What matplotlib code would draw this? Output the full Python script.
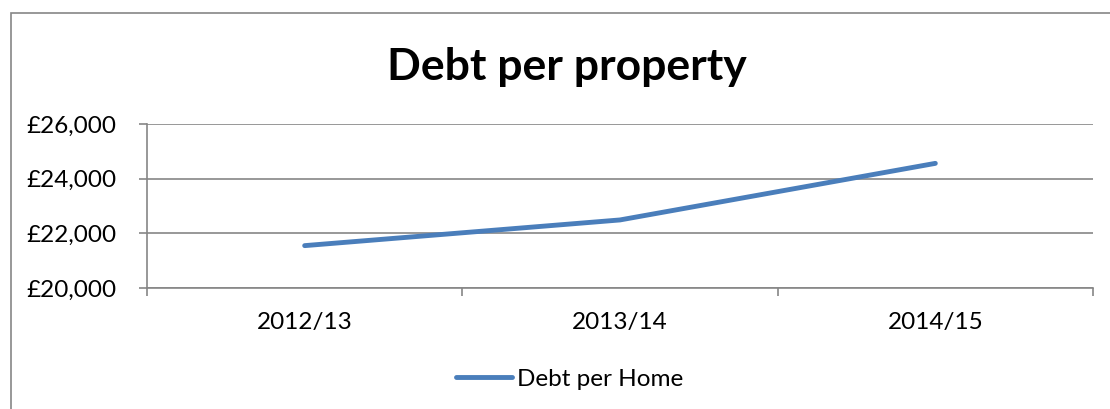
import matplotlib.pyplot as plt
from matplotlib.patches import Rectangle
from matplotlib.ticker import FuncFormatter

# data
years = ['2012/13', '2013/14', '2014/15']
debt_per_home = [21550, 22490, 24560]
y_ticks = [20000, 22000, 24000, 26000]

W, H = 1110, 409
fig = plt.figure(figsize=(W / 100, H / 100), dpi=100)
plt.rcParams['font.family'] = ['Lato', 'DejaVu Sans']

# outer chart border (runs off the right and bottom of the image)
fig.patches.append(Rectangle((11 / W, -0.05), 1.2, 1 - 13 / H + 0.05,
                             transform=fig.transFigure, fill=False,
                             edgecolor='#868686', linewidth=1.2))

ax = fig.add_axes([147 / W, 1 - 288 / H, (1093 - 147) / W, (288 - 124) / H])
x = list(range(len(years)))
ax.plot(x, debt_per_home, color='#4A7EBB', linewidth=3.5,
        solid_capstyle='round', solid_joinstyle='round', label='Debt per Home')

ax.set_xlim(-0.5, len(years) - 0.5)
ax.set_ylim(20000, 26000)
ax.set_yticks(y_ticks)
ax.yaxis.set_major_formatter(FuncFormatter(lambda v, p: '£{:,.0f}'.format(v)))
ax.set_xticks(x)
ax.set_xticklabels(years)
ax.set_xticks([-0.5, 0.5, 1.5, 2.5], minor=True)
ax.tick_params(axis='x', which='major', length=0, pad=17, labelsize=17.5)
ax.tick_params(axis='x', which='minor', length=6, width=1.2, color='#868686')
ax.tick_params(axis='y', length=6, width=1.2, color='#868686', pad=16, labelsize=17.5)

ax.grid(axis='y', color='#868686', linewidth=1.2)
ax.set_axisbelow(True)
for s in ['top', 'right']:
    ax.spines[s].set_visible(False)
ax.spines['left'].set_color('#868686')
ax.spines['bottom'].set_color('#868686')
ax.spines['left'].set_linewidth(1.2)
ax.spines['bottom'].set_linewidth(1.2)

fig.text(567 / W, 1 - 67 / H, 'Debt per property', ha='center', va='center',
         fontsize=32, fontweight='bold')

fig.legend(loc='center', bbox_to_anchor=(570 / W, 1 - 379 / H), frameon=False,
           fontsize=17.5, handlelength=2.3, handletextpad=0.2)

fig.savefig('out.png', dpi=100)
